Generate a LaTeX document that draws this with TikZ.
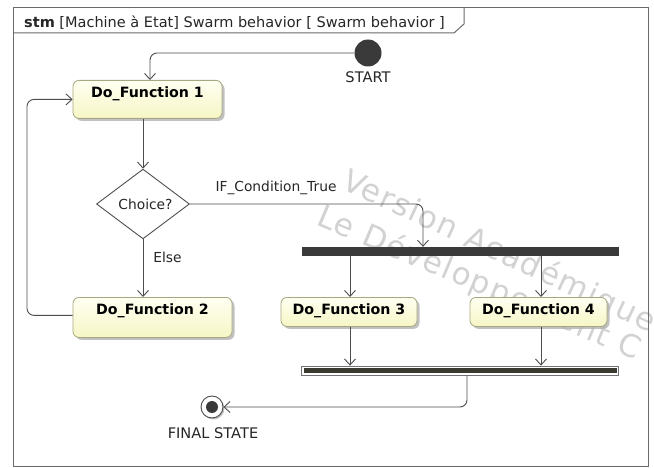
\documentclass[tikz,border=0pt]{standalone}
\usepackage{fontspec}
\setmainfont{DejaVu Sans}
\usetikzlibrary{arrows.meta,shapes.geometric,shadows,calc}
\definecolor{linec}{HTML}{4D4D4D}
\definecolor{framec}{HTML}{6A6A6A}
\definecolor{boxline}{HTML}{A8A880}
\definecolor{boxtop}{HTML}{FFFFF2}
\definecolor{boxbot}{HTML}{F6F6C6}
\definecolor{darkfill}{HTML}{3A3A3A}
\definecolor{joinfill}{HTML}{3A3A30}
\definecolor{wmark}{HTML}{D2D2D2}
\newcommand\myfs[1]{\fontsize{#1}{#1}\selectfont}
\begin{document}
\begin{tikzpicture}[x=1pt,y=-1pt,
  conn/.style={draw=linec, line width=0.9pt, rounded corners=7pt,
    -{Straight Barb[length=6pt,width=11pt,line width=0.9pt]}},
  stbox/.style={rectangle, rounded corners=6pt, draw=boxline, line width=0.8pt,
    top color=boxtop, bottom color=boxbot,
    drop shadow={shadow xshift=2.5pt, shadow yshift=-2.5pt, fill=black!30, opacity=0.8},
    inner xsep=0pt, inner ysep=4pt, text height=13.5pt, anchor=north,
    font=\myfs{14.2}\bfseries},
  lbl/.style={inner sep=0pt, anchor=base, font=\myfs{13.8}, text=black!85},
  ulbl/.style={inner sep=0pt, anchor=base, font=\myfs{14.6}, text=black!85},
  wm/.style={anchor=base west, inner sep=0pt, text=wmark,
    font=\myfs{31}\addfontfeature{LetterSpace=5}},
  barstyle/.style={rectangle, inner sep=0pt, minimum width=317pt, minimum height=9pt}
]
\useasboundingbox (0,0) rectangle (654,468);
\fill[white] (0,0) rectangle (654,468);

% watermark
\begin{scope}
\clip (0,0) rectangle (654,468);
\node[wm, rotate=-25] (wm1) at (340,188) {Version Académique};
\node[wm, rotate=-23] (wm2) at (315,224) {Le Développement C};
\end{scope}

% frame
\draw[framec, line width=1pt] (13,8) rectangle (648,466);
\draw[framec, line width=1pt] (13,33) -- (454,33) -- (464,24) -- (464,8);
\node[anchor=base west, inner sep=0pt, font=\myfs{14.5}, text=black!85] (title) at (24,28)
  {\textbf{stm} [Machine à Etat] Swarm behavior [ Swarm behavior ]};

% nodes
\node[circle, fill=darkfill, minimum size=27pt, inner sep=0pt] (start) at (368,53) {};
\node[ulbl] (startlbl) at (368,83) {START};

\node[stbox, minimum width=149pt, text depth=16.5pt] (f1) at (147.5,80) {Do\_Function 1};
\node[diamond, draw=linec, line width=0.9pt, fill=white, minimum width=93pt, minimum height=69pt,
  inner sep=0pt, font=\myfs{13.8}, text=black!85] (ch) at (143,204) {\hspace{5pt}Choice?};
\node[stbox, minimum width=159pt, text depth=18.5pt] (f2) at (152.5,297) {Do\_Function 2};

\node[barstyle, fill=darkfill] (fork) at (460.5,251.5) {};
\node[stbox, minimum width=136pt, text depth=7.5pt] (f3) at (349,297) {Do\_Function 3};
\node[stbox, minimum width=137pt, text depth=7.5pt] (f4) at (538.5,297) {Do\_Function 4};
\node[barstyle, draw=black!55, line width=0.8pt, fill=white,
  path picture={\fill[joinfill] ([shift={(2pt,2pt)}]path picture bounding box.south west)
     rectangle ([shift={(-2pt,-2pt)}]path picture bounding box.north east);}] (join) at (460,370.5) {};

\node[circle, draw=linec, line width=0.9pt, fill=white, minimum size=22pt, inner sep=0pt,
  drop shadow={shadow xshift=1.5pt, shadow yshift=-1.5pt, fill=black!30, opacity=0.8}] (final) at (212,407) {};
\fill[darkfill] (final.center) circle (6pt);
\node[ulbl] (finallbl) at (213,438) {FINAL STATE};

% helper coordinates
\coordinate (loopx) at (27,0);

% connectors
\draw[conn] (start.west) -| ([xshift=2.5pt]f1.north);
\draw[conn] (f1.south -| ch.north) -- (ch.north);
\draw[conn] (ch.south) -- (ch.south |- f2.north);
\node[lbl] (elselbl) at (167.5,262) {Else};
\draw[conn] (ch.east) -| ([xshift=-37.5pt]fork.north);
\node[lbl] (iflbl) at (276,192) {IF\_Condition\_True};
\draw[conn] ([xshift=1pt]f3.north |- fork.south) -- ([xshift=1pt]f3.north);
\draw[conn] ([xshift=2.5pt]f4.north |- fork.south) -- ([xshift=2.5pt]f4.north);
\draw[conn] ([xshift=1pt]f3.south) -- ([xshift=1pt]f3.south |- join.north);
\draw[conn] ([xshift=2.5pt]f4.south) -- ([xshift=2.5pt]f4.south |- join.north);
\draw[conn] ([xshift=7pt]join.south) |- (final.east);
\draw[conn] ([yshift=2pt]f2.west) -| (loopx |- f1.west) -- (f1.west);
\end{tikzpicture}
\end{document}
